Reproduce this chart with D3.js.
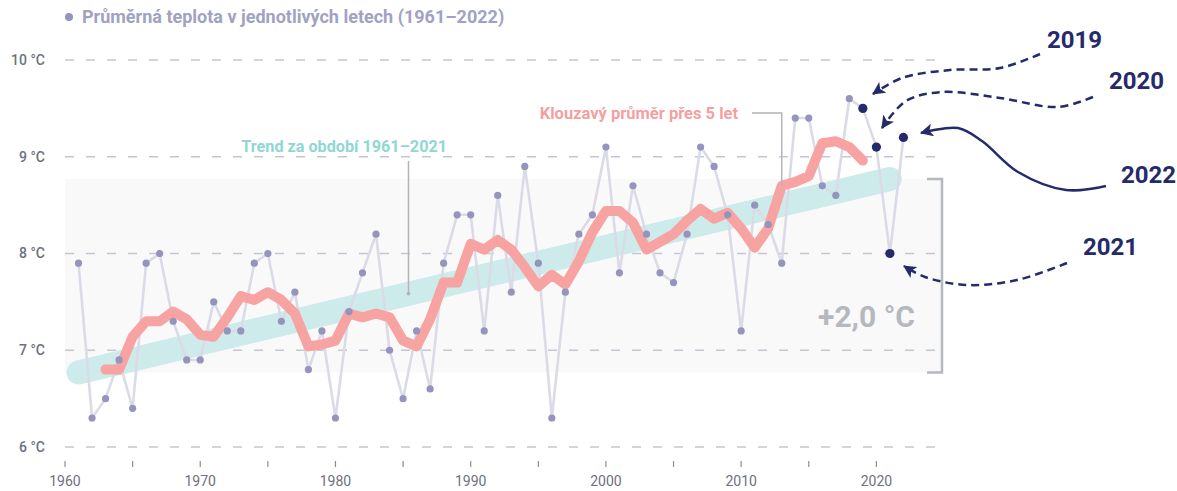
<!DOCTYPE html>
<html><head><meta charset="utf-8">
<script src="https://cdn.jsdelivr.net/npm/d3@7"></script>
<style>
body{margin:0;background:#fff}
svg{display:block;font-family:Roboto,"Noto Sans",sans-serif}
</style>
</head><body>
<svg id="c" width="1177" height="491"></svg>
<script>
// ---- data ----
const years = [1961,1962,1963,1964,1965,1966,1967,1968,1969,1970,
  1971,1972,1973,1974,1975,1976,1977,1978,1979,1980,
  1981,1982,1983,1984,1985,1986,1987,1988,1989,1990,
  1991,1992,1993,1994,1995,1996,1997,1998,1999,2000,
  2001,2002,2003,2004,2005,2006,2007,2008,2009,2010,
  2011,2012,2013,2014,2015,2016,2017,2018,2019,2020,
  2021,2022];
const temps = [7.9,6.3,6.5,6.9,6.4,7.9,8.0,7.3,6.9,6.9,
  7.5,7.2,7.2,7.9,8.0,7.3,7.6,6.8,7.2,6.3,
  7.4,7.8,8.2,7.0,6.5,7.2,6.6,7.9,8.4,8.4,
  7.2,8.6,7.6,8.9,7.9,6.3,7.6,8.2,8.4,9.1,
  7.8,8.7,8.2,7.8,7.7,8.2,9.1,8.9,8.4,7.2,
  8.5,8.3,7.9,9.4,9.4,8.7,8.6,9.6,9.5,9.1,
  8.0,9.2];
const maYears = [1963,1964,1965,1966,1967,1968,1969,1970,
  1971,1972,1973,1974,1975,1976,1977,1978,1979,1980,
  1981,1982,1983,1984,1985,1986,1987,1988,1989,1990,
  1991,1992,1993,1994,1995,1996,1997,1998,1999,2000,
  2001,2002,2003,2004,2005,2006,2007,2008,2009,2010,
  2011,2012,2013,2014,2015,2016,2017,2018,2019];
const maValues = [6.80,6.80,7.14,7.30,7.30,7.40,7.32,7.16,
  7.14,7.34,7.56,7.52,7.60,7.52,7.38,7.04,7.06,7.10,
  7.38,7.34,7.38,7.34,7.10,7.04,7.32,7.70,7.70,8.10,
  8.04,8.14,8.04,7.86,7.66,7.78,7.68,7.92,8.22,8.44,
  8.44,8.32,8.04,8.12,8.20,8.34,8.46,8.36,8.42,8.26,
  8.06,8.26,8.70,8.74,8.80,9.14,9.16,9.10,8.96];
const trendYears = [1961, 2021];
const trendValues = [6.77, 8.77];
const highlightYears = [2019, 2020, 2021, 2022];
const yTicks = [6, 7, 8, 9, 10];
const yTickLabels = ["6 °C", "7 °C", "8 °C", "9 °C", "10 °C"];
const xTicks = [1960,1965,1970,1975,1980,1985,1990,1995,2000,2005,2010,2015,2020];
const xTickLabels = [1960,1970,1980,1990,2000,2010,2020];
const legendText = "Průměrná teplota v jednotlivých letech (1961–2022)";
const trendLabel = "Trend za období 1961–2021";
const maLabel = "Klouzavý průměr přes 5 let";
const deltaLabel = "+2,0 °C";

// ---- styles ----
const C = {
  grid: "#c6c6d2", band: "#f9f9fa", teal: "#cdebea", tealText: "#8fd7d2",
  pink: "#f6a3a2", pinkText: "#f5a09f", line: "#dbdbe7", point: "#9494bd",
  navy: "#252a6b", axisText: "#6d717d", bracket: "#b5b8bd", legend: "#a1a1c3"
};

const svg = d3.select("#c");
const x = d3.scaleLinear().domain([1960, 2025]).range([65, 944]);
const y = d3.scaleLinear().domain([6, 10]).range([447, 60]);
const data = years.map((yr, i) => ({yr, t: temps[i]}));
const ma = maYears.map((yr, i) => ({yr, t: maValues[i]}));

// shaded trend range
const yTop = y(trendValues[1]), yBot = y(trendValues[0]);
svg.append("rect").attr("x", x(1960)).attr("y", yTop)
  .attr("width", 942 - x(1960)).attr("height", yBot - yTop).attr("fill", C.band);

// gridlines
svg.append("g").selectAll("line").data(yTicks).join("line")
  .attr("x1", x(1960)).attr("x2", x(2025))
  .attr("y1", d => y(d)).attr("y2", d => y(d))
  .attr("stroke", C.grid).attr("stroke-width", 1.5).attr("stroke-dasharray", "9,12");

// y labels
svg.append("g").selectAll("text").data(yTicks).join("text")
  .attr("x", 45).attr("y", d => y(d)).attr("dy", "0.35em")
  .attr("text-anchor", "end").attr("font-size", 14).attr("font-weight", 500)
  .attr("fill", C.axisText).text((d, i) => yTickLabels[i]);

// x axis ticks
svg.append("g").selectAll("line").data(xTicks).join("line")
  .attr("x1", d => x(d)).attr("x2", d => x(d)).attr("y1", 461).attr("y2", 467)
  .attr("stroke", "#8a8d97").attr("stroke-width", 1.2);
svg.append("g").selectAll("text").data(xTickLabels).join("text")
  .attr("x", d => x(d)).attr("y", 486).attr("text-anchor", "middle")
  .attr("font-size", 14).attr("fill", C.axisText).text(d => d);

// trend band
svg.append("path")
  .datum(trendYears.map((yr, i) => ({yr, t: trendValues[i]})))
  .attr("d", d3.line().x(d => x(d.yr)).y(d => y(d.t)))
  .attr("stroke", C.teal).attr("stroke-width", 24).attr("stroke-linecap", "round").attr("fill", "none");

// yearly line
svg.append("path").datum(data)
  .attr("d", d3.line().x(d => x(d.yr)).y(d => y(d.t)))
  .attr("stroke", C.line).attr("stroke-width", 2.6).attr("fill", "none").attr("stroke-linejoin", "round");

// moving average
svg.append("path").datum(ma)
  .attr("d", d3.line().x(d => x(d.yr)).y(d => y(d.t)))
  .attr("stroke", C.pink).attr("stroke-width", 10).attr("fill", "none")
  .attr("stroke-linejoin", "round").attr("stroke-linecap", "round");

// points
svg.append("g").selectAll("circle").data(data.filter(d => !highlightYears.includes(d.yr))).join("circle")
  .attr("cx", d => x(d.yr)).attr("cy", d => y(d.t)).attr("r", 3.6).attr("fill", C.point);
svg.append("g").selectAll("circle").data(data.filter(d => highlightYears.includes(d.yr))).join("circle")
  .attr("cx", d => x(d.yr)).attr("cy", d => y(d.t)).attr("r", 4.6).attr("fill", C.navy);

// trend label + leader
const tYr = 1985.4;
const tVal = trendValues[0] + (trendValues[1] - trendValues[0]) * (tYr - trendYears[0]) / (trendYears[1] - trendYears[0]);
svg.append("line").attr("x1", x(tYr)).attr("x2", x(tYr)).attr("y1", 161).attr("y2", y(tVal))
  .attr("stroke", "#b3b3b8").attr("stroke-width", 1.5);
svg.append("circle").attr("cx", x(tYr)).attr("cy", y(tVal)).attr("r", 1.8).attr("fill", "#b3b3b8");
svg.append("text").attr("x", 447).attr("y", 152).attr("text-anchor", "end")
  .attr("font-size", 16.2).attr("font-weight", 700).attr("fill", C.tealText).text(trendLabel);

// moving average label + leader
const mYr = 2013, mVal = maValues[maYears.indexOf(2013)];
svg.append("path")
  .attr("d", `M752,113H${x(mYr)}V${y(mVal)}`)
  .attr("stroke", "#b3b3b8").attr("stroke-width", 1.5).attr("fill", "none");
svg.append("text").attr("x", 738).attr("y", 119).attr("text-anchor", "end")
  .attr("font-size", 16.5).attr("font-weight", 700).attr("fill", C.pinkText).text(maLabel);

// bracket + delta
svg.append("path")
  .attr("d", `M927,${yTop}H942V${yBot}H927`)
  .attr("stroke", C.bracket).attr("stroke-width", 2.5).attr("fill", "none");
svg.append("text").attr("x", 915).attr("y", 327).attr("text-anchor", "end")
  .attr("font-size", 30).attr("font-weight", 700).attr("fill", C.bracket).text(deltaLabel);

// legend
svg.append("circle").attr("cx", 69).attr("cy", 17).attr("r", 4).attr("fill", C.point);
svg.append("text").attr("x", 82).attr("y", 23).attr("font-size", 18).attr("font-weight", 700)
  .attr("fill", C.legend).text(legendText);

// arrows
const defs = svg.append("defs");
defs.append("marker").attr("id", "ah").attr("viewBox", "0 -6 12 12")
  .attr("refX", 11).attr("refY", 0).attr("markerWidth", 13).attr("markerHeight", 13)
  .attr("markerUnits", "userSpaceOnUse").attr("orient", "auto")
  .append("path").attr("d", "M0,-6L12,0L0,6L3,0Z").attr("fill", C.navy);

const curve = d3.line().curve(d3.curveCatmullRom.alpha(0.5));
const arrows = [
  {label: "2019", lx: 1047, ly: 48, dash: true,
   pts: [[1040,54],[1000,68],[950,70],[902,78],[873,94]]},
  {label: "2020", lx: 1109, ly: 89, dash: true,
   pts: [[1093,97],[1058,107],[1000,98],[942,92],[906,101],[882,128]]},
  {label: "2022", lx: 1121, ly: 183, dash: false,
   pts: [[1106,186],[1066,190],[1018,172],[982,141],[958,128],[921,133]]},
  {label: "2021", lx: 1083, ly: 255, dash: true,
   pts: [[1067,263],[1017,280],[967,285],[925,277],[904,266]]}
];
arrows.forEach(a => {
  svg.append("path").attr("d", curve(a.pts)).attr("fill", "none")
    .attr("stroke", C.navy).attr("stroke-width", 2.5)
    .attr("stroke-dasharray", a.dash ? "8,5" : null)
    .attr("marker-end", "url(#ah)");
  svg.append("text").attr("x", a.lx).attr("y", a.ly).attr("font-size", 24).attr("font-weight", 700)
    .attr("fill", C.navy).text(a.label);
});
</script>
</body></html>
